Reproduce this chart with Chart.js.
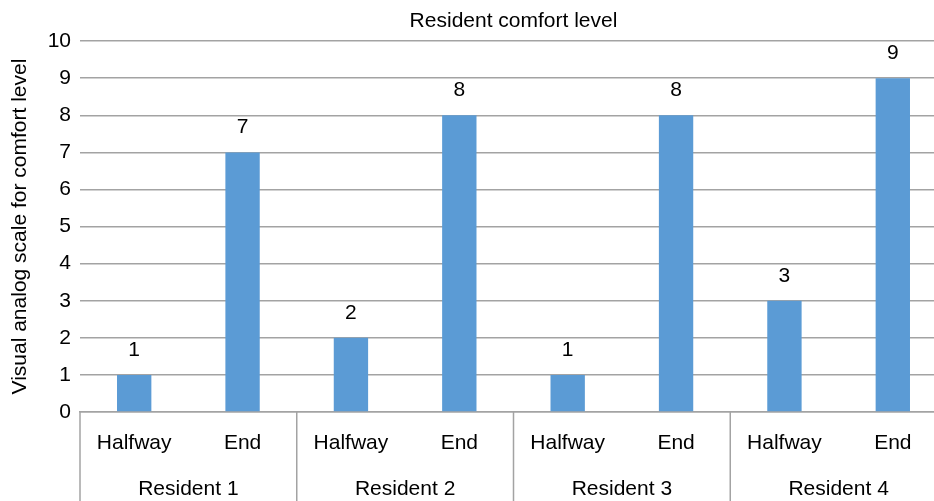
<!DOCTYPE html>
<html>
<head>
<meta charset="utf-8">
<script src="https://cdn.jsdelivr.net/npm/chart.js@4.4.1/dist/chart.umd.min.js"></script>
<style>
  html, body { margin: 0; padding: 0; background: #ffffff; overflow: hidden; }
  #wrap { position: relative; width: 950px; height: 501px; }
</style>
</head>
<body>
<div id="wrap"><canvas id="chart"></canvas></div>
<script>
// Comfort scores per resident at the halfway point and at the end
const residents = ['Resident 1', 'Resident 2', 'Resident 3', 'Resident 4'];
const phases = ['Halfway', 'End'];
const halfwayScores = [1, 2, 1, 3];
const endScores = [7, 8, 8, 9];
const yTickValues = [0, 1, 2, 3, 4, 5, 6, 7, 8, 9, 10];

// One bar per (resident, phase) pair, in resident order
const subLabels = [];
const scores = [];
residents.forEach((r, i) => {
  subLabels.push(phases[0]);
  scores.push(halfwayScores[i]);
  subLabels.push(phases[1]);
  scores.push(endScores[i]);
});

const FONT = 'Liberation Sans, Arial, sans-serif';
const FONT_SIZE = 21;
const GRID = '#a3a3a3';

// Vertical separators between resident groups under the axis
const groupSeparators = {
  id: 'groupSeparators',
  afterDraw(chart) {
    const x = chart.scales.x;
    const ctx = chart.ctx;
    const top = chart.chartArea.bottom;
    const bottom = chart.height;
    ctx.save();
    ctx.strokeStyle = GRID;
    ctx.lineWidth = 1.5;
    for (let g = 0; g <= residents.length; g++) {
      const idx = g * phases.length;
      let px;
      if (g === 0) px = x.left;
      else if (g === residents.length) px = x.right;
      else px = (x.getPixelForValue(idx - 1) + x.getPixelForValue(idx)) / 2;
      ctx.beginPath();
      ctx.moveTo(px, top);
      ctx.lineTo(px, bottom);
      ctx.stroke();
    }
    ctx.restore();
  }
};

// Value labels above each bar
const barValues = {
  id: 'barValues',
  afterDatasetsDraw(chart) {
    const ctx = chart.ctx;
    const meta = chart.getDatasetMeta(0);
    const data = chart.data.datasets[0].data;
    ctx.save();
    ctx.fillStyle = '#000000';
    ctx.font = FONT_SIZE + 'px ' + FONT;
    ctx.textAlign = 'center';
    ctx.textBaseline = 'alphabetic';
    meta.data.forEach((el, i) => {
      ctx.fillText(String(data[i]), el.x, el.y - 19);
    });
    ctx.restore();
  }
};

new Chart(document.getElementById('chart'), {
  type: 'bar',
  data: {
    labels: subLabels,
    datasets: [{
      data: scores,
      backgroundColor: '#5b9bd5',
      borderWidth: 0,
      barPercentage: 0.317,
      categoryPercentage: 1.0
    }]
  },
  options: {
    responsive: true,
    maintainAspectRatio: false,
    animation: false,
    layout: { padding: { left: 0, right: 3, top: 0, bottom: 0 } },
    plugins: {
      legend: { display: false },
      tooltip: { enabled: false },
      title: {
        display: true,
        text: 'Resident comfort level',
        color: '#000000',
        fullSize: false,
        font: { family: FONT, size: FONT_SIZE, weight: 'normal', lineHeight: 1.15 },
        padding: { top: 9, bottom: 8 }
      }
    },
    scales: {
      y: {
        min: 0,
        max: 10,
        afterBuildTicks(scale) {
          scale.ticks = yTickValues.map(v => ({ value: v }));
        },
        afterFit(scale) { scale.width = 80; },
        grid: { color: GRID, lineWidth: 1.5, drawTicks: false },
        border: { display: false },
        ticks: {
          color: '#000000',
          font: { family: FONT, size: FONT_SIZE },
          padding: 9
        },
        title: {
          display: true,
          text: 'Visual analog scale for comfort level',
          color: '#000000',
          font: { family: FONT, size: FONT_SIZE },
          padding: { top: 8, bottom: 0 }
        }
      },
      x: {
        position: 'bottom',
        afterFit(scale) { scale.height = 44; },
        grid: { display: false, drawTicks: false },
        border: { display: true, color: GRID, width: 1.5 },
        ticks: {
          color: '#000000',
          font: { family: FONT, size: FONT_SIZE },
          padding: 19,
          maxRotation: 0,
          autoSkip: false
        }
      },
      x2: {
        type: 'category',
        position: 'bottom',
        labels: residents,
        offset: true,
        afterFit(scale) { scale.height = 45; },
        grid: { display: false, drawTicks: false },
        border: { display: false },
        ticks: {
          color: '#000000',
          font: { family: FONT, size: FONT_SIZE },
          padding: 21,
          maxRotation: 0,
          autoSkip: false
        }
      }
    }
  },
  plugins: [groupSeparators, barValues]
});
</script>
</body>
</html>
